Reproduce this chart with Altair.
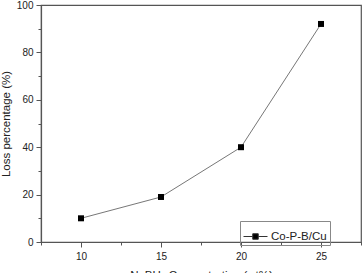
import altair as alt
import pandas as pd

conc = [10, 15, 20, 25]
loss = [10, 19, 40, 92]
series = ["Co-P-B/Cu"] * 4

df = pd.DataFrame({"conc": conc, "loss": loss, "series": series})

FONT = "Liberation Sans"

x = alt.X("conc:Q", scale=alt.Scale(domain=[7.5, 27.5], nice=False, zero=False),
          axis=alt.Axis(values=[7.5, 10, 12.5, 15, 17.5, 20, 22.5, 25, 27.5],
                        labelExpr="datum.value % 5 === 0 ? datum.value : ''",
                        tickSize={"condition": {"test": "datum.value % 5 === 0", "value": 5}, "value": 3},
                        title="NaBH₄ Concentration (wt%)", grid=False,
                        titlePadding=8, labelPadding=4))
y = alt.Y("loss:Q", scale=alt.Scale(domain=[0, 100], nice=False),
          axis=alt.Axis(values=list(range(0, 101, 10)),
                        labelExpr="datum.value % 20 === 0 ? datum.value : ''",
                        tickSize={"condition": {"test": "datum.value % 20 === 0", "value": 5}, "value": 3},
                        title="Loss percentage (%)", grid=False,
                        titlePadding=5, labelPadding=3))

line = alt.Chart(df).mark_line(color="#777777", strokeWidth=1).encode(x=x, y=y)
pts = alt.Chart(df).mark_point(shape="square", filled=True, size=36, opacity=1, color="black").encode(
    x=x, y=y,
    color=alt.Color("series:N", scale=alt.Scale(range=["black"]),
                    legend=alt.Legend(title=None, orient="none", legendX=199, legendY=216,
                                      symbolType="M-1,0H-0.23M0.23,0H1M-0.23,-0.23H0.23V0.23H-0.23Z",
                                      symbolSize=576, symbolStrokeWidth=1, symbolFillColor="black",
                                      symbolStrokeColor="#333333", labelOffset=3,
                                      strokeColor="#888888", padding=3, labelFontSize=11.5,
                                      labelFont=FONT, labelColor="#222222")))

chart = alt.layer(line, pts).properties(
    width=320, height=237,
    autosize=alt.AutoSizeParams(type="none"),
    padding={"left": 41, "top": 5, "right": 2, "bottom": 31},
    background="white",
).configure_axis(
    labelFont=FONT, titleFont=FONT, labelFontSize=10, titleFontSize=11.5,
    titleFontWeight="normal", labelColor="#222222", titleColor="#222222",
    domainColor="#555555", tickColor="#555555", domainWidth=1.2,
).configure_view(stroke="#555555", strokeWidth=1.2)

chart.save("out.html", embed_options={"renderer": "svg", "actions": False})
